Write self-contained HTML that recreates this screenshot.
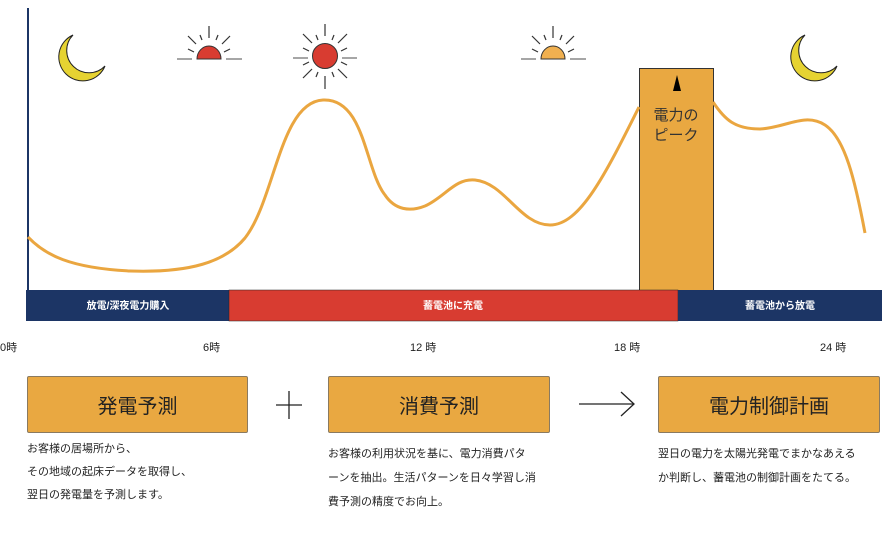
<!DOCTYPE html>
<html><head><meta charset="utf-8"><style>
body{margin:0;width:884px;height:539px;background:#fff;font-family:"Liberation Sans","Noto Sans CJK JP",sans-serif;position:relative;overflow:hidden}
.b{position:absolute;background:#e9a841;border:1px solid #8a7a60;box-sizing:border-box;display:flex;align-items:center;justify-content:center;font-size:20px;color:#222;border-radius:2px}
.t{position:absolute;font-size:11px;color:#222;line-height:23px}
.h{position:absolute;font-size:11px;color:#222;top:339px}
</style></head><body>
<svg width="884" height="539" style="position:absolute;left:0;top:0">
<line x1="28" y1="8" x2="28" y2="290" stroke="#1c3565" stroke-width="2"/>
<rect x="639.5" y="68.5" width="74" height="222" fill="#e9a841" stroke="#333" stroke-width="1"/>
<polygon points="677,75 673,91 681,91" fill="#000"/>
<text x="676" y="120" font-size="15" text-anchor="middle" fill="#333" font-family="Liberation Sans,Noto Sans CJK JP,sans-serif">電力の</text>
<text x="676" y="140" font-size="15" text-anchor="middle" fill="#333" font-family="Liberation Sans,Noto Sans CJK JP,sans-serif">ピーク</text>
<path d="M28,237 C45,255 70,268 130,271 C190,273 225,262 245,238 C275,200 280,102 323,100 C365,98 365,170 385,195 C395,210 410,212 425,206 C445,197 455,178 475,180 C505,183 520,225 550,225 C580,225 605,175 639,107" fill="none" stroke="#eaa640" stroke-width="3"/>
<path d="M713,102 C725,120 735,129 760,129 C785,128 805,112 825,125 C845,138 855,180 865,233" fill="none" stroke="#eaa640" stroke-width="3"/>
<rect x="26" y="290" width="203" height="31" fill="#1c3565"/>
<rect x="229" y="290" width="449" height="31" fill="#d83c31" stroke="#222" stroke-width="0.5"/>
<rect x="678" y="290" width="204" height="31" fill="#1c3565"/>
<g font-size="10" fill="#fff" text-anchor="middle" font-weight="bold" font-family="Liberation Sans,Noto Sans CJK JP,sans-serif">
<text x="128" y="309">放電/深夜電力購入</text><text x="453" y="309">蓄電池に充電</text><text x="780" y="309">蓄電池から放電</text></g>
<!-- moons -->
<g fill="#e6d332" stroke="#222" stroke-width="1">
<path d="M73,35 A24,24 0 1 0 105,66 A20,20 0 0 1 73,35 Z"/>
<path d="M805,35 A24,24 0 1 0 837,66 A20,20 0 0 1 805,35 Z"/>
</g>
<!-- sunrise 1 -->
<g stroke="#333" stroke-width="1.2">
<line x1="209" y1="26" x2="209" y2="38"/><line x1="188" y1="36" x2="196" y2="44"/><line x1="230" y1="36" x2="222" y2="44"/>
<line x1="200" y1="35" x2="202" y2="40"/><line x1="218" y1="35" x2="216" y2="40"/><line x1="188" y1="49" x2="194" y2="52"/><line x1="230" y1="49" x2="224" y2="52"/>
<line x1="553" y1="26" x2="553" y2="38"/><line x1="532" y1="36" x2="540" y2="44"/><line x1="574" y1="36" x2="566" y2="44"/>
<line x1="544" y1="35" x2="546" y2="40"/><line x1="562" y1="35" x2="560" y2="40"/><line x1="532" y1="49" x2="538" y2="52"/><line x1="574" y1="49" x2="568" y2="52"/>
<line x1="325" y1="24" x2="325" y2="36"/><line x1="325" y1="76" x2="325" y2="89"/>
<line x1="303" y1="34" x2="312" y2="43"/><line x1="347" y1="34" x2="338" y2="43"/><line x1="303" y1="78" x2="312" y2="69"/><line x1="347" y1="78" x2="338" y2="69"/>
<line x1="316" y1="35" x2="318" y2="40"/><line x1="334" y1="35" x2="332" y2="40"/><line x1="316" y1="77" x2="318" y2="72"/><line x1="334" y1="77" x2="332" y2="72"/>
<line x1="303" y1="48" x2="309" y2="51"/><line x1="347" y1="48" x2="341" y2="51"/><line x1="303" y1="65" x2="309" y2="62"/><line x1="347" y1="65" x2="341" y2="62"/>
</g>
<g stroke="#888" stroke-width="1.5">
<line x1="177" y1="59" x2="192" y2="59"/><line x1="226" y1="59" x2="242" y2="59"/>
<line x1="521" y1="59" x2="536" y2="59"/><line x1="570" y1="59" x2="586" y2="59"/>
<line x1="293" y1="58" x2="308" y2="58"/><line x1="342" y1="58" x2="357" y2="58"/>
</g>
<path d="M197,59 A12,13 0 0 1 221,59 Z" fill="#d83c31" stroke="#333"/>
<path d="M541,59 A12,13 0 0 1 565,59 Z" fill="#f0b050" stroke="#333"/>
<circle cx="325" cy="56" r="12.5" fill="#d83c31" stroke="#333"/>
<!-- plus and arrow -->
<line x1="289" y1="391" x2="289" y2="419" stroke="#222" stroke-width="1.3"/><line x1="276" y1="405" x2="302" y2="405" stroke="#222" stroke-width="1.3"/>
<line x1="579" y1="404" x2="634" y2="404" stroke="#222" stroke-width="1.3"/><polyline points="621,392 634,404 621,416" fill="none" stroke="#222" stroke-width="1.3"/>
</svg>
<div class="h" style="left:0">0時</div><div class="h" style="left:203px">6時</div><div class="h" style="left:410px">12 時</div><div class="h" style="left:614px">18 時</div><div class="h" style="left:820px">24 時</div>
<div class="b" style="left:27px;top:376px;width:221px;height:57px">発電予測</div>
<div class="b" style="left:328px;top:376px;width:222px;height:57px">消費予測</div>
<div class="b" style="left:658px;top:376px;width:222px;height:57px">電力制御計画</div>
<div class="t" style="left:27px;top:438px">お客様の居場所から、<br>その地域の起床データを取得し、<br>翌日の発電量を予測します。</div>
<div class="t" style="left:328px;top:442px;line-height:24px">お客様の利用状況を基に、電力消費パタ<br>ーンを抽出。生活パターンを日々学習し消<br>費予測の精度でお向上。</div>
<div class="t" style="left:658px;top:442px;line-height:24px">翌日の電力を太陽光発電でまかなあえる<br>か判断し、蓄電池の制御計画をたてる。</div>
</body></html>
